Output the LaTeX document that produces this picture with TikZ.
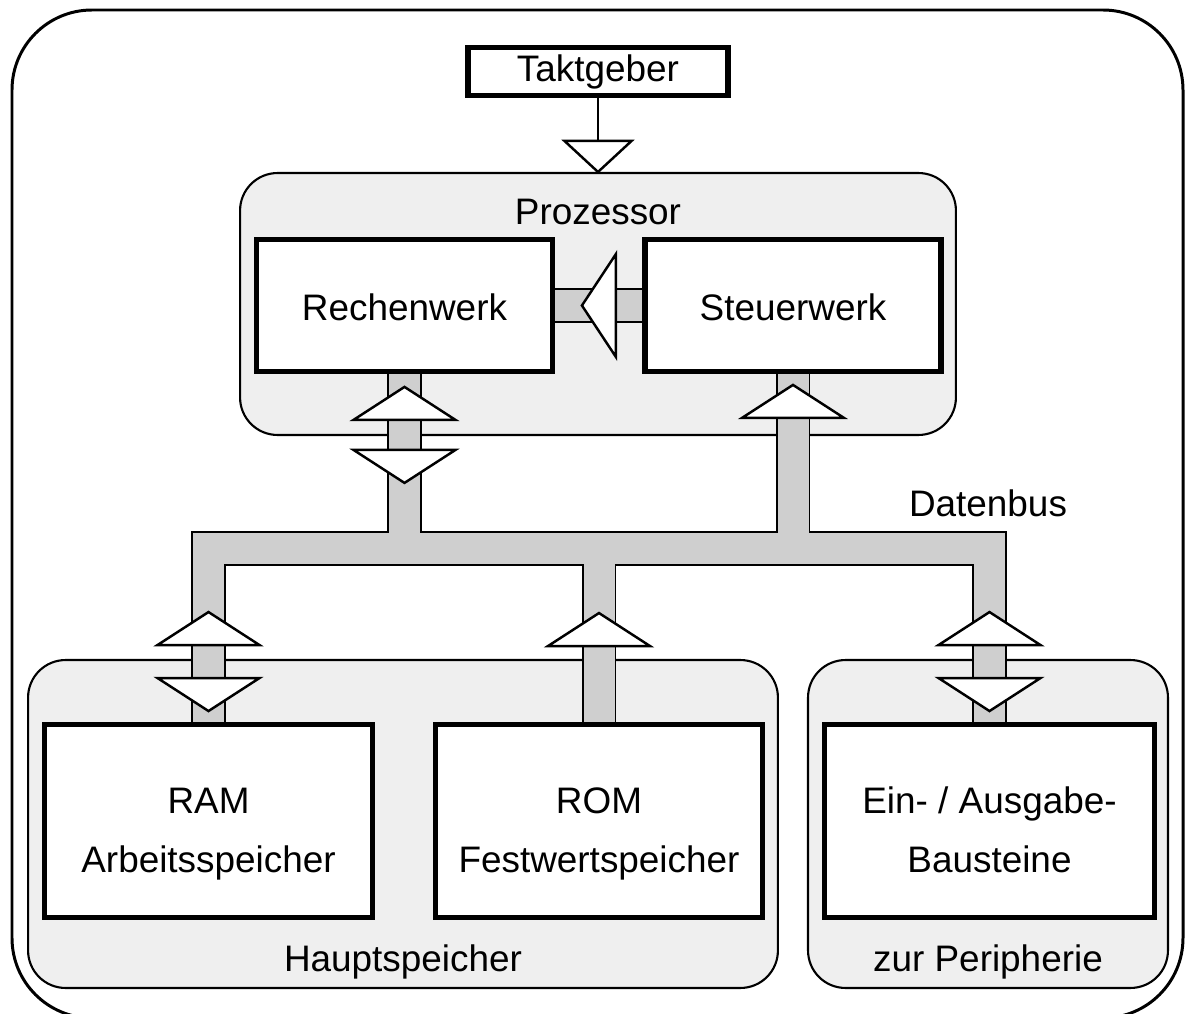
\documentclass[tikz,border=0pt]{standalone}
\usepackage{fontspec}
\setmainfont{Liberation Sans}
\usetikzlibrary{calc}
\definecolor{groupfill}{HTML}{EFEFEF}
\definecolor{busfill}{HTML}{CFCFCF}
\pgfdeclarelayer{back}
\pgfdeclarelayer{middle}
\pgfsetlayers{back,middle,main}
\tikzstyle{unit} = [rectangle, draw=black, line width=3.1pt, fill=white, align=center, font=\fontsize{21}{34}\selectfont]
\tikzstyle{twoline} = [text height=2.08cm, text depth=0pt]
\tikzstyle{group} = [rectangle, rounded corners=0.75cm, draw=black, line width=1.2pt, fill=groupfill]
\tikzstyle{caption} = [anchor=base, font=\fontsize{21}{25}\selectfont]
\tikzstyle{bus} = [draw=black, line width=1.1pt, double=busfill, double distance=0.62cm, line join=miter]
\tikzstyle{tip} = [draw=black, line width=1.4pt, fill=white, line join=miter]
\tikzstyle{wire} = [draw=black, line width=1.4pt]

\begin{document}
\begin{tikzpicture}[x=0.02cm, y=-0.02cm]
	\useasboundingbox (0,0) rectangle (1188,1014);
	\draw[line width=1.7pt, rounded corners=1.6cm] (12,10) rectangle (1183,1018);
	% Baugruppen
	\begin{pgfonlayer}{back}
		\node (proz) [group, minimum width=14.32cm, minimum height=5.24cm] at (598,304) {};
		\node (haupt) [group, minimum width=15cm, minimum height=6.56cm] at (403,824) {};
		\node (peri) [group, minimum width=7.2cm, minimum height=6.56cm] at (988,824) {};
	\end{pgfonlayer}
	\node (takt) [unit, minimum width=5.2cm, minimum height=0.95cm] at (598,71.5) {Taktgeber};
	\node (rechen) [unit, minimum width=5.92cm, minimum height=2.64cm, text height=0.62cm, text depth=0pt] at (404.5,305.5) {Rechenwerk};
	\node (steuer) [unit, minimum width=5.92cm, minimum height=2.64cm, text height=0.62cm, text depth=0pt] at (793,305.5) {Steuerwerk};
	\node (ram) [unit, twoline, minimum width=6.56cm, minimum height=3.86cm] at (208.5,821) {RAM\\Arbeitsspeicher};
	\node (rom) [unit, twoline, minimum width=6.54cm, minimum height=3.86cm] at (599,821) {ROM\\Festwertspeicher};
	\node (ea) [unit, twoline, minimum width=6.6cm, minimum height=3.86cm] at (989.5,821) {Ein- / Ausgabe-\\Bausteine};
	\node (prozname) [caption] at ($(proz.north)+(0,53)$) {Prozessor};
	\node (busname) [caption] at (988,516) {Datenbus};
	\node (hauptname) [caption] at ($(haupt.south)+(0,-18)$) {Hauptspeicher};
	\node (periname) [caption] at ($(peri.south)+(0,-18)$) {zur Peripherie};
	% Datenbus
	\begin{pgfonlayer}{middle}
		\coordinate (busy) at (0,548.5);
		\draw[bus] (ram) -- (ram |- busy) -- (ea |- busy) -- (ea)
			(rechen) -- (rechen |- busy) (steuer) -- (steuer |- busy) (rom) -- (rom |- busy);
		\draw[bus] (rechen) -- (steuer);
	\end{pgfonlayer}
	% Pfeilspitzen
	\draw[wire] (takt) -- ($(proz.north)+(0,-31)$);
	\draw[tip] (proz.north) -- ++(33.5,-31) -- ++(-67,0) -- cycle;
	\draw[tip] ($(rechen.east)+(26.75,0)$) -- ++(34,-51.5) -- ++(0,103) -- cycle;
	\draw[tip] ($(rechen.south)+(0,12.7)$) -- ++(51,33) -- ++(-102,0) -- cycle;
	\draw[tip] ($(rechen.south)+(0,108.7)$) -- ++(51,-33) -- ++(-102,0) -- cycle;
	\draw[tip] ($(steuer.south)+(0,10.7)$) -- ++(51,33) -- ++(-102,0) -- cycle;
	\draw[tip] ($(ram.north)+(0,-109.75)$) -- ++(51,33) -- ++(-102,0) -- cycle;
	\draw[tip] ($(ram.north)+(0,-10.75)$) -- ++(51,-33) -- ++(-102,0) -- cycle;
	\draw[tip] ($(rom.north)+(0,-108.75)$) -- ++(51,33) -- ++(-102,0) -- cycle;
	\draw[tip] ($(ea.north)+(0,-109.75)$) -- ++(51,33) -- ++(-102,0) -- cycle;
	\draw[tip] ($(ea.north)+(0,-10.75)$) -- ++(51,-33) -- ++(-102,0) -- cycle;
\end{tikzpicture}
\end{document}
